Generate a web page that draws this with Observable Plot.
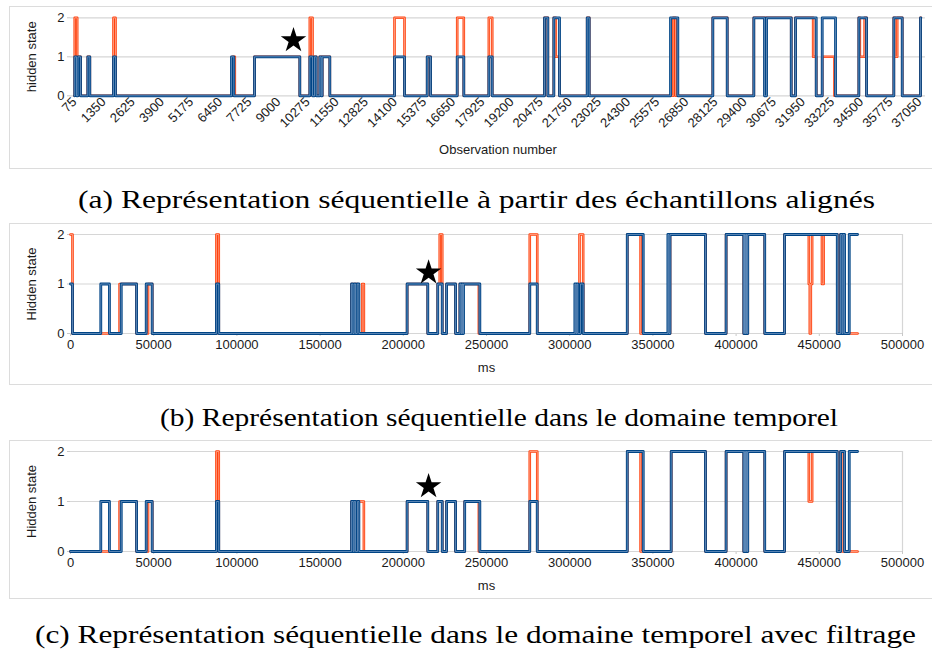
<!DOCTYPE html>
<html><head><meta charset="utf-8">
<script src="https://cdn.jsdelivr.net/npm/d3@7"></script>
<script src="https://cdn.jsdelivr.net/npm/@observablehq/plot@0.6"></script>
<style>
body{margin:0;background:#fff;}
#root{position:relative;width:932px;height:653px;overflow:hidden;background:#fff;}
.box{position:absolute;border:1px solid #dcdcdc;box-sizing:border-box;}
.panel{position:absolute;left:0;}
#cap{position:absolute;left:0;top:0;}
</style></head><body><div id="root"></div><script>
// ---------- Panel (a): observation number ----------
const aTicks = [75,1350,2625,3900,5175,6450,7725,9000,10275,11550,12825,14100,15375,16650,17925,19200,20475,21750,23025,24300,25575,26850,28125,29400,30675,31950,33225,34500,35775,37050];
const aBlueX = [75,85,163,228,338,657,745,1782,1869,6945,7046,7952,9934,10372,10490,10577,10652,10809,10870,10914,11247,14078,14516,15509,15654,16822,17110,18205,18354,20642,20787,21049,21298,22510,22598,26156,26475,28006,28637,29801,30269,30357,31438,31626,32531,32794,33376,34396,34733,35927,36295,37095,37110];
const aBlueS = [0,1,0,1,0,1,0,1,0,1,0,1,0,1,0,1,0,1,0,1,0,1,0,1,0,1,0,1,0,2,0,2,0,2,0,2,0,2,0,2,0,2,0,2,0,2,0,2,0,2,0,2,2];
const aOrangeX = [75,85,193,228,338,657,745,1782,1869,6990,7090,7952,9934,10372,10490,10577,10652,10809,10870,10914,11247,14078,14516,15509,15654,16822,17110,18205,18354,20642,20787,21049,21136,21298,22510,22598,26274,26377,28006,28637,29801,30290,30330,31438,31626,32397,32531,32794,33330,34396,34440,34650,34733,35927,35990,36075,36295,37095,37110];
const aOrangeS = [0,2,0,1,0,1,0,2,0,1,0,1,0,2,0,1,0,1,0,1,0,2,0,1,0,2,0,2,0,2,0,2,1,0,2,0,2,0,2,0,2,0,2,0,2,1,0,1,0,2,1,2,0,2,1,2,0,2,2];
const aStarX = [9658], aStarY = [1.42];

// ---------- Panel (b): time domain (ms) ----------
const msTicks = [0,50000,100000,150000,200000,250000,300000,350000,400000,450000,500000];
const bBlueX = [0,1200,18200,23400,30500,39700,45500,49100,87700,89100,168900,169700,170500,171300,172300,173300,202300,214700,220700,223400,226000,231400,234000,234700,235200,235700,236200,246000,276000,280500,303100,303700,304300,304900,306500,308100,334600,344200,359000,359600,360300,381600,394000,404600,405000,405500,406000,406400,407000,417200,429100,460800,462800,463700,464300,465200,468000,473000];
const bBlueS = [1,0,1,0,1,0,1,0,1,0,1,0,1,0,1,0,1,0,1,0,1,0,1,0,1,0,1,0,1,0,1,0,1,0,1,0,2,0,2,0,2,0,2,0,2,0,2,0,2,0,2,0,2,0,2,0,2,2];
const bOrangeX = [0,1200,29500,39700,46600,49100,87700,89100,168900,169700,170500,172500,175300,176300,202300,214700,220700,221900,223400,226000,231400,234000,245400,276000,280500,305900,308100,334600,342600,360300,381600,394000,404600,407000,417200,429100,443700,444300,444900,445700,451600,452600,460800,462800,464000,465200,473000];
const bOrangeS = [2,0,1,0,1,0,2,0,1,0,1,0,1,0,1,0,1,2,0,1,0,1,0,2,0,2,0,2,0,2,0,2,0,2,0,2,1,0,1,2,1,2,0,2,1,0,0];
const bStarX = [215200], bStarY = [1.23];

// ---------- Panel (c): time domain with filtering (ms) ----------
const cBlueX = [0,18200,23400,30500,39700,45500,49100,87700,89100,168900,169900,170500,171300,172500,173300,202300,214700,220700,223400,226000,231400,236900,246000,276000,280500,334600,344200,361000,381600,394000,404600,405100,405600,406100,406600,407000,417200,429100,460800,462800,465200,468000,473000];
const cBlueS = [0,1,0,1,0,1,0,1,0,1,0,1,0,1,0,1,0,1,0,1,0,1,0,1,0,2,0,2,0,2,0,2,0,2,0,2,0,2,0,2,0,2,2];
const cOrangeX = [0,29500,39700,46600,49100,87700,89100,168900,169900,170500,171300,171900,176300,202300,214700,220700,223400,226000,231400,236900,245400,276000,280500,334600,342600,361000,381600,394000,404600,407000,417200,429100,443700,445700,460800,462800,464000,473000];
const cOrangeS = [0,1,0,1,0,2,0,1,0,1,0,1,0,1,0,1,0,1,0,1,0,2,0,2,0,2,0,2,0,2,0,2,1,2,0,2,0,0];
const cStarX = [215200], cStarY = [1.3];

const captions = [
  "(a) Représentation séquentielle à partir des échantillons alignés",
  "(b) Représentation séquentielle dans le domaine temporel",
  "(c) Représentation séquentielle dans le domaine temporel avec filtrage"
];
const yTicks = [0,1,2];

// ---------- rendering ----------
const BLUE = "#004586", ORANGE = "#ff420e";
const rows = (xs, ss) => xs.map((x, i) => ({x, s: ss[i]}));
const root = document.getElementById("root");

function box(l, t, w, h) {
  const d = document.createElement("div");
  d.className = "box";
  Object.assign(d.style, {left: l + "px", top: t + "px", width: w + "px", height: h + "px"});
  root.appendChild(d);
}
box(9, 6, 930, 163);
box(9, 223, 930, 162);
box(9, 440, 930, 159);

function panel(o) {
  const blue = rows(o.bx, o.bs), orange = rows(o.ox, o.os);
  const stars = o.sx.map((x, i) => ({x, y: o.sy[i]}));
  const marks = [
    Plot.ruleY(yTicks, {stroke: "#d6d6d6", strokeWidth: 1.2}),
    ...(o.rightRule ? [Plot.ruleX([o.xDomain[1]], {y1: 0, y2: 2, stroke: "#d6d6d6", strokeWidth: 1.2})] : []),
    Plot.line(orange, {x: "x", y: "s", curve: "step-after", stroke: ORANGE, strokeWidth: 2.6}),
    Plot.line(orange, {x: "x", y: "s", curve: "step-after", stroke: "#ffb9a3", strokeWidth: 0.7}),
    Plot.line(blue, {x: "x", y: "s", curve: "step-after", stroke: BLUE, strokeWidth: 2.8}),
    Plot.line(blue, {x: "x", y: "s", curve: "step-after", stroke: "#7fa0c8", strokeWidth: 0.7}),
    Plot.dot(stars, {x: "x", y: "y", symbol: "star", r: 8, fill: "#000", stroke: "none"})
  ];
  const p = Plot.plot({
    width: 932, height: o.height,
    marginLeft: o.ml, marginRight: o.mr, marginTop: o.mt, marginBottom: o.mb,
    style: {fontFamily: "'Liberation Sans', Arial, sans-serif", fontSize: "13px", color: "#1a1a1a", background: "transparent"},
    x: {domain: o.xDomain, ticks: o.xTicks, tickFormat: d => String(d), tickRotate: o.rotate, tickSize: o.xTickSize,
        tickPadding: o.xTickPad, label: o.xLabel, labelAnchor: "center", labelOffset: o.xLabelOffset, labelArrow: "none"},
    y: {domain: [0, 2], ticks: yTicks, tickFormat: "d", tickSize: 3, tickPadding: 3, label: o.yLabel,
        labelAnchor: "center", labelOffset: 44, labelArrow: "none"},
    marks
  });
  p.classList.add("panel");
  p.style.top = o.top + "px";
  p.querySelectorAll("g[aria-label='y-axis tick'] path, g[aria-label='x-axis tick'] path").forEach(e => e.setAttribute("stroke", "#c8c8c8"));
  root.appendChild(p);
}

panel({top: 0, height: 170, ml: 70, mr: 7, mt: 17.3, mb: 74.7, xDomain: [-100, 37313], xTicks: aTicks, rotate: -45,
  xTickSize: 0, xTickPad: 4, xLabel: "Observation number", xLabelOffset: 58, yLabel: "hidden state",
  bx: aBlueX, bs: aBlueS, ox: aOrangeX, os: aOrangeS, sx: aStarX, sy: aStarY, rightRule: false});
panel({top: 215, height: 170, ml: 70, mr: 30, mt: 19, mb: 52, xDomain: [0, 500000], xTicks: msTicks, rotate: 0,
  xTickSize: 3, xTickPad: 3, xLabel: "ms", xLabelOffset: 38, yLabel: "Hidden state",
  bx: bBlueX, bs: bBlueS, ox: bOrangeX, os: bOrangeS, sx: bStarX, sy: bStarY, rightRule: true});
panel({top: 433, height: 170, ml: 70, mr: 30, mt: 18, mb: 52, xDomain: [0, 500000], xTicks: msTicks, rotate: 0,
  xTickSize: 3, xTickPad: 3, xLabel: "ms", xLabelOffset: 38, yLabel: "Hidden state",
  bx: cBlueX, bs: cBlueS, ox: cOrangeX, os: cOrangeS, sx: cStarX, sy: cStarY, rightRule: true});

// captions
const cap = d3.select(root).append("svg").attr("id", "cap").attr("width", 932).attr("height", 653)
  .style("pointer-events", "none");
const capPos = [{x: 78, y: 208, w: 797}, {x: 160, y: 426, w: 678}, {x: 35, y: 643, w: 881}];
cap.selectAll("text").data(captions).join("text")
  .attr("x", (d, i) => capPos[i].x).attr("y", (d, i) => capPos[i].y)
  .attr("textLength", (d, i) => capPos[i].w).attr("lengthAdjust", "spacingAndGlyphs")
  .attr("font-family", "'Liberation Serif', 'DejaVu Serif', serif").attr("font-size", 26).attr("fill", "#000")
  .text(d => d);
</script></body></html>
